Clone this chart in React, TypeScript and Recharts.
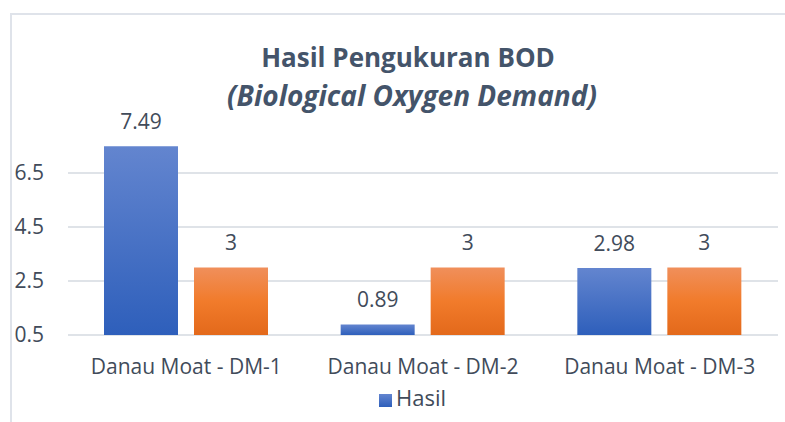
import React from 'react'
import {
  BarChart,
  Bar,
  XAxis,
  YAxis,
  CartesianGrid,
  Legend,
  LabelList,
} from 'recharts'

const categories = ['Danau Moat - DM-1', 'Danau Moat - DM-2', 'Danau Moat - DM-3']
const hasil = [7.49, 0.89, 2.98]
const bakuMutu = [3, 3, 3]
const yTicks = [0.5, 2.5, 4.5, 6.5]

const data = categories.map((name, i) => ({
  name,
  hasil: hasil[i],
  bakuMutu: bakuMutu[i],
}))

const FONT = '"Open Sans", sans-serif'
const TEXT = '#414b5a'

export default function App() {
  return (
    <div
      style={{
        position: 'absolute',
        left: 0,
        top: 0,
        width: 785,
        height: 422,
        overflow: 'hidden',
        background: '#fff',
        fontFamily: FONT,
      }}
    >
      <div
        style={{
          position: 'absolute',
          left: 10,
          top: 13,
          width: 900,
          height: 600,
          border: '2px solid #dfe3ea',
        }}
      />
      <div
        style={{
          position: 'absolute',
          left: 0,
          top: 44,
          width: 816,
          textAlign: 'center',
          fontSize: 26,
          lineHeight: 1,
          fontWeight: 700,
          color: '#44546a',
        }}
      >
        Hasil Pengukuran BOD
      </div>
      <div
        style={{
          position: 'absolute',
          left: 0,
          top: 81,
          width: 824,
          textAlign: 'center',
          fontSize: 28,
          lineHeight: 1,
          fontWeight: 700,
          fontStyle: 'italic',
          color: '#44546a',
        }}
      >
        (Biological Oxygen Demand)
      </div>
      <BarChart
        width={785}
        height={422}
        data={data}
        margin={{ top: 119, right: 7, left: 0, bottom: 0 }}
        barSize={74}
        barGap={16}
        style={{ position: 'absolute', left: 0, top: 0 }}
      >
        <defs>
          <linearGradient id="blue" x1="0" y1="0" x2="0" y2="1">
            <stop offset="0%" stopColor="#6385cf" />
            <stop offset="100%" stopColor="#2e5fbb" />
          </linearGradient>
          <linearGradient id="orange" x1="0" y1="0" x2="0" y2="1">
            <stop offset="0%" stopColor="#f08f5b" />
            <stop offset="50%" stopColor="#f17b2b" />
            <stop offset="100%" stopColor="#e3691b" />
          </linearGradient>
        </defs>
        <CartesianGrid vertical={false} horizontalValues={yTicks} stroke="#dfe3e8" strokeWidth={2} />
        <XAxis
          dataKey="name"
          height={87}
          axisLine={false}
          tickLine={false}
          tickSize={0}
          tickMargin={24}
          tick={{ fill: TEXT, fontSize: 21, fontFamily: FONT }}
        />
        <YAxis
          width={68}
          domain={[0.5, 8.5]}
          ticks={yTicks}
          axisLine={false}
          tickLine={false}
          tickSize={0}
          tickMargin={24}
          tick={{ fill: TEXT, fontSize: 21, fontFamily: FONT }}
        />
        <Legend
          layout="horizontal"
          verticalAlign="middle"
          align="center"
          iconType="square"
          iconSize={13}
          wrapperStyle={{ top: 382, left: 379, width: 75, fontSize: 22, fontFamily: FONT }}
          formatter={(v) => <span style={{ color: TEXT }}>{v}</span>}
        />
        <Bar dataKey="hasil" name="Hasil" fill="url(#blue)" isAnimationActive={false}>
          <LabelList dataKey="hasil" position="top" offset={17} fill={TEXT} fontSize={21} fontFamily={FONT} />
        </Bar>
        <Bar dataKey="bakuMutu" name="Baku Mutu" fill="url(#orange)" legendType="none" isAnimationActive={false}>
          <LabelList dataKey="bakuMutu" position="top" offset={18} fill={TEXT} fontSize={21} fontFamily={FONT} />
        </Bar>
      </BarChart>
    </div>
  )
}
